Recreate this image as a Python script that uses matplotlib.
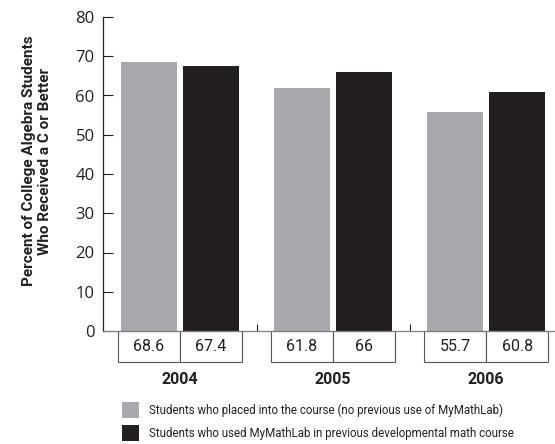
import matplotlib
matplotlib.use('Agg')
import numpy as np
from matplotlib import pyplot as plt
from matplotlib.patches import Rectangle
import matplotlib.transforms as mtransforms

# Data
years = ['2004', '2005', '2006']
placed = [68.6, 61.8, 55.7]
mymathlab = [67.4, 66, 60.8]
placed_labels = ['68.6', '61.8', '55.7']
mymathlab_labels = ['67.4', '66', '60.8']
legend_labels = ['Students who placed into the course (no previous use of MyMathLab)',
                 'Students who used MyMathLab in previous developmental math course']
yticks = [0, 10, 20, 30, 40, 50, 60, 70, 80]

gray = '#a7a9ac'
black = '#231f20'
narrow = ['Roboto', 'DejaVu Sans']
tickfont = ['Open Sans', 'DejaVu Sans']

fig = plt.figure(figsize=(5.55, 4.44), dpi=100)
ax = fig.add_axes([103/555, 113/444, 452/555, 314/444])

x = np.arange(len(years))
w = 0.366
off = 0.2026
ax.bar(x - off, placed, w, color=gray)
ax.bar(x + off, mymathlab, w, color=black)

ax.set_xlim(-0.503, 2.45)
ax.set_ylim(0, 80)
ax.set_yticks(yticks)
ax.set_yticklabels([str(t) for t in yticks], fontfamily=tickfont, fontsize=12, color=black)
ax.tick_params(axis='y', direction='in', length=7.5, width=0.8, color=black, pad=6)
ax.set_xticks([0.5, 1.5])
ax.set_xticklabels([])
ax.tick_params(axis='x', direction='in', length=5, width=0.8, color=black)

for s in ['top', 'right']:
    ax.spines[s].set_visible(False)
ax.spines['left'].set_color(black)
ax.spines['left'].set_linewidth(0.9)
ax.spines['bottom'].set_color('#808080')
ax.spines['bottom'].set_linewidth(0.9)

# value table under each group
trans = mtransforms.blended_transform_factory(ax.transData, ax.transAxes)
cell_h = 31 / 314
for i in range(len(years)):
    for j, (vals, offs) in enumerate([(placed_labels, -off), (mymathlab_labels, off)]):
        cx = x[i] + offs
        ax.add_patch(Rectangle((cx - w/2 - 0.02, -cell_h), w + 0.04, cell_h,
                               transform=trans, clip_on=False, facecolor='white',
                               edgecolor='#555555', linewidth=0.8))
        ax.text(cx, -cell_h/2, vals[i], transform=trans, ha='center', va='center',
                fontsize=11.5, fontfamily=narrow, color=black)
    ax.text(x[i], -0.155, years[i], transform=trans, ha='center', va='center',
            fontsize=11.5, fontweight='bold', fontfamily=narrow, color=black)

# y label in two lines
fig.text(37/555, 1 - 161/444, 'Percent of College Algebra Students\nWho Received a C or Better',
         rotation=90, ha='center', va='center', fontsize=11, fontweight='bold',
         fontfamily=narrow, color=black, linespacing=1.15)

# legend
for k, (c, lab) in enumerate(zip([gray, black], legend_labels)):
    y0 = 444 - 418 - k * 23
    fig.patches.append(Rectangle((122/555, y0/444), 17/555, 16/444, transform=fig.transFigure,
                                 facecolor=c, edgecolor='none'))
    fig.text(149/555, (y0 + 8)/444, lab, ha='left', va='center', fontsize=8.3,
             fontfamily=narrow, color=black)

plt.savefig('out.png', dpi=100)
